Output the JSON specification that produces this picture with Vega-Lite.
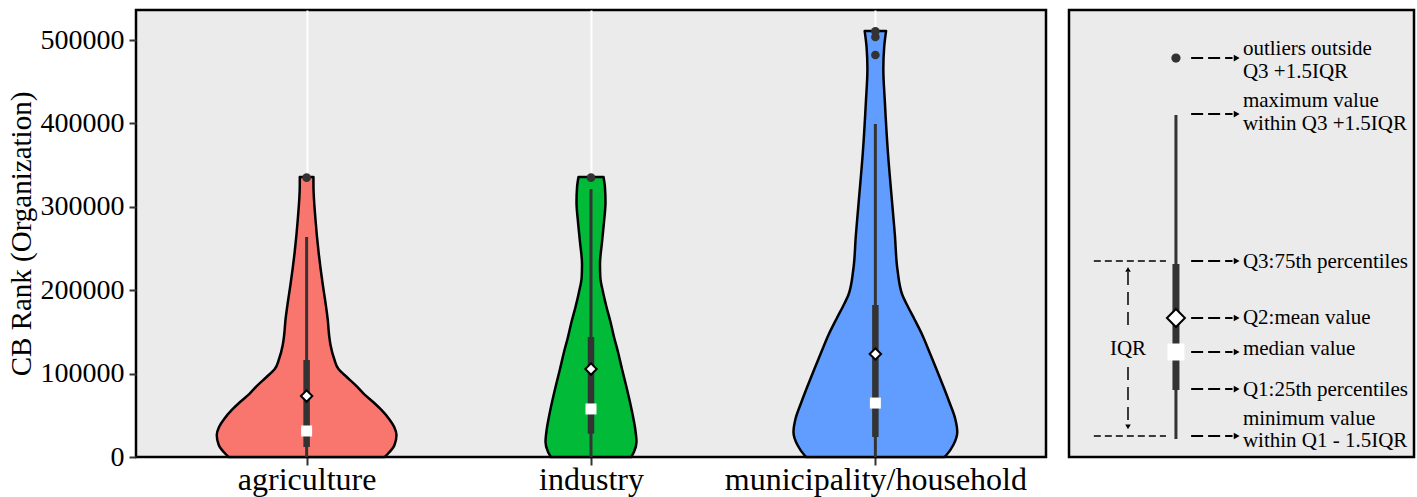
{
  "$schema": "https://vega.github.io/schema/vega-lite/v6.json",
  "padding": {"left": 5, "top": 8, "right": 0, "bottom": 0},
  "background": "white",
  "config": {
    "view": {"fill": "#EBEBEB", "stroke": "black", "strokeWidth": 2.5},
    "font": "Liberation Serif",
    "axis": {"labelFont": "Liberation Serif", "titleFont": "Liberation Serif", "labelColor": "black", "titleColor": "black", "titleFontWeight": "normal"},
    "text": {"font": "Liberation Serif"}
  },
  "datasets": {
    "violin": [
      {"group": "agriculture", "value": 0, "halfwidth": 0.274},
      {"group": "agriculture", "value": 3600, "halfwidth": 0.285},
      {"group": "agriculture", "value": 14400, "halfwidth": 0.309},
      {"group": "agriculture", "value": 26400, "halfwidth": 0.316},
      {"group": "agriculture", "value": 36000, "halfwidth": 0.308},
      {"group": "agriculture", "value": 45600, "halfwidth": 0.29},
      {"group": "agriculture", "value": 56400, "halfwidth": 0.263},
      {"group": "agriculture", "value": 65900, "halfwidth": 0.234},
      {"group": "agriculture", "value": 75500, "halfwidth": 0.202},
      {"group": "agriculture", "value": 86300, "halfwidth": 0.172},
      {"group": "agriculture", "value": 95900, "halfwidth": 0.141},
      {"group": "agriculture", "value": 105500, "halfwidth": 0.112},
      {"group": "agriculture", "value": 117500, "halfwidth": 0.097},
      {"group": "agriculture", "value": 134300, "halfwidth": 0.084},
      {"group": "agriculture", "value": 146300, "halfwidth": 0.079},
      {"group": "agriculture", "value": 165500, "halfwidth": 0.074},
      {"group": "agriculture", "value": 185800, "halfwidth": 0.066},
      {"group": "agriculture", "value": 206200, "halfwidth": 0.057},
      {"group": "agriculture", "value": 245800, "halfwidth": 0.042},
      {"group": "agriculture", "value": 285400, "halfwidth": 0.031},
      {"group": "agriculture", "value": 326100, "halfwidth": 0.024},
      {"group": "agriculture", "value": 335700, "halfwidth": 0.024},
      {"group": "industry", "value": 0, "halfwidth": 0.141},
      {"group": "industry", "value": 6000, "halfwidth": 0.151},
      {"group": "industry", "value": 18000, "halfwidth": 0.16},
      {"group": "industry", "value": 32400, "halfwidth": 0.156},
      {"group": "industry", "value": 48000, "halfwidth": 0.148},
      {"group": "industry", "value": 65900, "halfwidth": 0.137},
      {"group": "industry", "value": 86300, "halfwidth": 0.123},
      {"group": "industry", "value": 105500, "halfwidth": 0.109},
      {"group": "industry", "value": 125900, "halfwidth": 0.0949},
      {"group": "industry", "value": 143900, "halfwidth": 0.0809},
      {"group": "industry", "value": 161900, "halfwidth": 0.0686},
      {"group": "industry", "value": 179900, "halfwidth": 0.0545},
      {"group": "industry", "value": 197800, "halfwidth": 0.0422},
      {"group": "industry", "value": 215800, "halfwidth": 0.0327},
      {"group": "industry", "value": 231400, "halfwidth": 0.0316},
      {"group": "industry", "value": 257800, "halfwidth": 0.0387},
      {"group": "industry", "value": 281800, "halfwidth": 0.0457},
      {"group": "industry", "value": 305700, "halfwidth": 0.051},
      {"group": "industry", "value": 323700, "halfwidth": 0.049},
      {"group": "industry", "value": 335700, "halfwidth": 0.044},
      {"group": "municipality/household", "value": 0, "halfwidth": 0.243},
      {"group": "municipality/household", "value": 2400, "halfwidth": 0.25},
      {"group": "municipality/household", "value": 14400, "halfwidth": 0.274},
      {"group": "municipality/household", "value": 30000, "halfwidth": 0.288},
      {"group": "municipality/household", "value": 45600, "halfwidth": 0.281},
      {"group": "municipality/household", "value": 65900, "halfwidth": 0.26},
      {"group": "municipality/household", "value": 86300, "halfwidth": 0.237},
      {"group": "municipality/household", "value": 105500, "halfwidth": 0.2145},
      {"group": "municipality/household", "value": 125900, "halfwidth": 0.19},
      {"group": "municipality/household", "value": 146300, "halfwidth": 0.165},
      {"group": "municipality/household", "value": 165500, "halfwidth": 0.137},
      {"group": "municipality/household", "value": 179900, "halfwidth": 0.115},
      {"group": "municipality/household", "value": 194200, "halfwidth": 0.095},
      {"group": "municipality/household", "value": 225400, "halfwidth": 0.0774},
      {"group": "municipality/household", "value": 266200, "halfwidth": 0.0686},
      {"group": "municipality/household", "value": 305700, "halfwidth": 0.0587},
      {"group": "municipality/household", "value": 365700, "halfwidth": 0.044},
      {"group": "municipality/household", "value": 425600, "halfwidth": 0.0334},
      {"group": "municipality/household", "value": 465200, "halfwidth": 0.028},
      {"group": "municipality/household", "value": 491600, "halfwidth": 0.031},
      {"group": "municipality/household", "value": 510800, "halfwidth": 0.0376}
    ],
    "box": [
      {"group": "agriculture", "lower": 0, "q1": 12000, "median": 31200, "mean": 73100, "q3": 116300, "upper": 263800},
      {"group": "industry", "lower": 0, "q1": 28000, "median": 57600, "mean": 105500, "q3": 143900, "upper": 321300},
      {"group": "municipality/household", "lower": 0, "q1": 24000, "median": 64700, "mean": 123500, "q3": 182200, "upper": 399300}
    ],
    "outliers": [
      {"group": "agriculture", "value": 335000},
      {"group": "industry", "value": 335000},
      {"group": "municipality/household", "value": 482000},
      {"group": "municipality/household", "value": 503600},
      {"group": "municipality/household", "value": 510400}
    ],
    "legendGuides": [
      {"x": 7.2, "x2": 28.1, "y": 235000},
      {"x": 7.2, "x2": 28.1, "y": 25200}
    ],
    "legendArrows": [
      {"x": 35.4, "x2": 47.4, "y": 478400},
      {"x": 35.4, "x2": 47.4, "y": 411200},
      {"x": 35.4, "x2": 47.4, "y": 235000},
      {"x": 35.4, "x2": 47.4, "y": 166700},
      {"x": 35.4, "x2": 47.4, "y": 125900},
      {"x": 35.4, "x2": 47.4, "y": 81500},
      {"x": 35.4, "x2": 47.4, "y": 25200}
    ],
    "legendHeads": [
      {"x": 48.6, "y": 478400},
      {"x": 48.6, "y": 411200},
      {"x": 48.6, "y": 235000},
      {"x": 48.6, "y": 166700},
      {"x": 48.6, "y": 125900},
      {"x": 48.6, "y": 81500},
      {"x": 48.6, "y": 25200}
    ],
    "legendIqrLine": [
      {"x": 17.1, "y": 221800, "y2": 149900},
      {"x": 17.1, "y": 107900, "y2": 37200}
    ],
    "legendIqrHeads": [
      {"x": 17.1, "y": 225000, "dir": "up"},
      {"x": 17.1, "y": 36200, "dir": "down"}
    ],
    "legendBox": [
      {"x": 31, "lower": 21600, "q1": 80300, "median": 125900, "mean": 166700, "q3": 231400, "upper": 410000, "outlier": 478400}
    ],
    "legendText": [
      {"x": 50.4, "y": 482000, "label": "outliers outside"},
      {"x": 50.4, "y": 454400, "label": "Q3 +1.5IQR"},
      {"x": 50.4, "y": 419700, "label": "maximum value"},
      {"x": 50.4, "y": 392100, "label": "within Q3 +1.5IQR"},
      {"x": 50.4, "y": 226600, "label": "Q3:75th percentiles"},
      {"x": 50.4, "y": 159500, "label": "Q2:mean value"},
      {"x": 50.4, "y": 122300, "label": "median value"},
      {"x": 50.4, "y": 73100, "label": "Q1:25th percentiles"},
      {"x": 50.4, "y": 38400, "label": "minimum value"},
      {"x": 50.4, "y": 12000, "label": "within Q1 - 1.5IQR"}
    ],
    "legendIqrText": [
      {"x": 17.1, "y": 122300, "label": "IQR"}
    ]
  },
  "spacing": 19,
  "resolve": {"scale": {"x": "independent", "y": "independent", "color": "independent", "shape": "independent"}},
  "hconcat": [
    {
      "width": 910,
      "height": 447,
      "layer": [
        {
          "data": {"name": "violin"},
          "transform": [
            {"calculate": "indexof(['agriculture','industry','municipality/household'], datum.group) + 1", "as": "pos"},
            {"calculate": "datum.pos - datum.halfwidth", "as": "left"},
            {"calculate": "datum.pos + datum.halfwidth", "as": "right"}
          ],
          "mark": {"type": "area", "orient": "horizontal", "interpolate": "monotone", "stroke": "black", "strokeWidth": 2.5, "fillOpacity": 1, "strokeJoin": "round"},
          "encoding": {
            "y": {
              "field": "value", "type": "quantitative",
              "scale": {"domain": [0, 536000], "nice": false, "zero": false},
              "axis": {"values": [0, 100000, 200000, 300000, 400000, 500000], "format": "d", "title": "CB Rank (Organization)", "titleFontSize": 29, "labelFontSize": 28, "tickSize": 7, "tickWidth": 2, "tickColor": "#333333", "labelPadding": 5, "titlePadding": 4, "domain": false, "grid": false}
            },
            "x": {
              "field": "left", "type": "quantitative",
              "scale": {"domain": [0.4, 3.6], "nice": false, "zero": false},
              "axis": {"values": [1, 2, 3], "labelExpr": "datum.value == 1 ? 'agriculture' : datum.value == 2 ? 'industry' : 'municipality/household'", "title": null, "labelFontSize": 32, "labelLimit": 0, "tickSize": 8, "tickWidth": 2, "tickColor": "#333333", "labelPadding": -1, "domain": false, "grid": true, "gridColor": "white", "gridWidth": 2, "labelFlush": false, "labelOverlap": false}
            },
            "x2": {"field": "right"},
            "color": {"field": "group", "type": "nominal", "scale": {"domain": ["agriculture", "industry", "municipality/household"], "range": ["#F8766D", "#00BA38", "#619CFF"]}, "legend": null}
          }
        },
        {
          "data": {"name": "box"},
          "transform": [{"calculate": "indexof(['agriculture','industry','municipality/household'], datum.group) + 1", "as": "pos"}],
          "mark": {"type": "rule", "color": "#333333", "strokeWidth": 3},
          "encoding": {
            "x": {"field": "pos", "type": "quantitative"},
            "y": {"field": "lower", "type": "quantitative"},
            "y2": {"field": "upper"}
          }
        },
        {
          "data": {"name": "box"},
          "transform": [{"calculate": "indexof(['agriculture','industry','municipality/household'], datum.group) + 1", "as": "pos"}],
          "mark": {"type": "rule", "color": "#333333", "strokeWidth": 6.5},
          "encoding": {
            "x": {"field": "pos", "type": "quantitative"},
            "y": {"field": "q1", "type": "quantitative"},
            "y2": {"field": "q3"}
          }
        },
        {
          "data": {"name": "box"},
          "transform": [{"calculate": "indexof(['agriculture','industry','municipality/household'], datum.group) + 1", "as": "pos"}],
          "mark": {"type": "point", "shape": "square", "filled": true, "color": "white", "opacity": 1, "size": 121},
          "encoding": {
            "x": {"field": "pos", "type": "quantitative"},
            "y": {"field": "median", "type": "quantitative"}
          }
        },
        {
          "data": {"name": "box"},
          "transform": [{"calculate": "indexof(['agriculture','industry','municipality/household'], datum.group) + 1", "as": "pos"}],
          "mark": {"type": "point", "shape": "diamond", "filled": true, "fill": "white", "stroke": "black", "strokeWidth": 2, "opacity": 1, "size": 130},
          "encoding": {
            "x": {"field": "pos", "type": "quantitative"},
            "y": {"field": "mean", "type": "quantitative"}
          }
        },
        {
          "data": {"name": "outliers"},
          "transform": [{"calculate": "indexof(['agriculture','industry','municipality/household'], datum.group) + 1", "as": "pos"}],
          "mark": {"type": "circle", "color": "#333333", "opacity": 1, "size": 75},
          "encoding": {
            "x": {"field": "pos", "type": "quantitative"},
            "y": {"field": "value", "type": "quantitative"}
          }
        }
      ]
    },
    {
      "width": 345,
      "height": 447,
      "encoding": {
        "x": {"type": "quantitative", "scale": {"domain": [0, 100], "nice": false, "zero": false}, "axis": null},
        "y": {"type": "quantitative", "scale": {"domain": [0, 536000], "nice": false, "zero": false}, "axis": null}
      },
      "layer": [
        {
          "data": {"name": "legendGuides"},
          "mark": {"type": "rule", "color": "black", "strokeWidth": 1.5, "strokeDash": [7, 4]},
          "encoding": {"x": {"field": "x"}, "x2": {"field": "x2"}, "y": {"field": "y"}}
        },
        {
          "data": {"name": "legendArrows"},
          "mark": {"type": "rule", "color": "black", "strokeWidth": 2, "strokeDash": [12, 5]},
          "encoding": {"x": {"field": "x"}, "x2": {"field": "x2"}, "y": {"field": "y"}}
        },
        {
          "data": {"name": "legendHeads"},
          "mark": {"type": "point", "shape": "triangle-right", "filled": true, "color": "black", "opacity": 1, "size": 45},
          "encoding": {"x": {"field": "x"}, "y": {"field": "y"}}
        },
        {
          "data": {"name": "legendIqrLine"},
          "mark": {"type": "rule", "color": "black", "strokeWidth": 1.5, "strokeDash": [13, 7]},
          "encoding": {"x": {"field": "x"}, "y": {"field": "y"}, "y2": {"field": "y2"}}
        },
        {
          "data": {"name": "legendIqrHeads"},
          "mark": {"type": "point", "filled": true, "color": "black", "opacity": 1, "size": 30},
          "encoding": {
            "x": {"field": "x"}, "y": {"field": "y"},
            "shape": {"field": "dir", "type": "nominal", "scale": {"domain": ["up", "down"], "range": ["triangle-up", "triangle-down"]}, "legend": null}
          }
        },
        {
          "data": {"name": "legendBox"},
          "mark": {"type": "rule", "color": "#333333", "strokeWidth": 3},
          "encoding": {"x": {"field": "x"}, "y": {"field": "lower"}, "y2": {"field": "upper"}}
        },
        {
          "data": {"name": "legendBox"},
          "mark": {"type": "rule", "color": "#333333", "strokeWidth": 7},
          "encoding": {"x": {"field": "x"}, "y": {"field": "q1"}, "y2": {"field": "q3"}}
        },
        {
          "data": {"name": "legendBox"},
          "mark": {"type": "point", "shape": "square", "filled": true, "color": "white", "opacity": 1, "size": 289},
          "encoding": {"x": {"field": "x"}, "y": {"field": "median"}}
        },
        {
          "data": {"name": "legendBox"},
          "mark": {"type": "point", "shape": "diamond", "filled": true, "fill": "white", "stroke": "black", "strokeWidth": 2, "opacity": 1, "size": 324},
          "encoding": {"x": {"field": "x"}, "y": {"field": "mean"}}
        },
        {
          "data": {"name": "legendBox"},
          "mark": {"type": "circle", "color": "#333333", "opacity": 1, "size": 85},
          "encoding": {"x": {"field": "x"}, "y": {"field": "outlier"}}
        },
        {
          "data": {"name": "legendText"},
          "mark": {"type": "text", "align": "left", "baseline": "alphabetic", "fontSize": 21, "color": "black"},
          "encoding": {"x": {"field": "x"}, "y": {"field": "y"}, "text": {"field": "label"}}
        },
        {
          "data": {"name": "legendIqrText"},
          "mark": {"type": "text", "align": "center", "baseline": "alphabetic", "fontSize": 21, "color": "black"},
          "encoding": {"x": {"field": "x"}, "y": {"field": "y"}, "text": {"field": "label"}}
        }
      ]
    }
  ]
}
